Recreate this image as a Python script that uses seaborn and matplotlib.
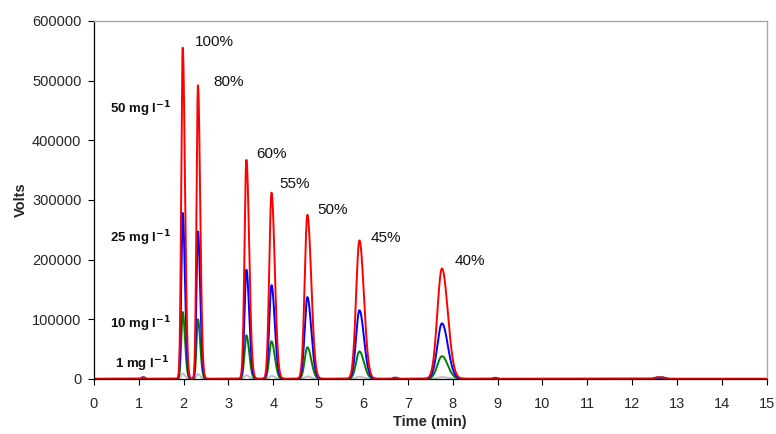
import numpy as np
import pandas as pd
import matplotlib
matplotlib.use("Agg")
import matplotlib.pyplot as plt
import seaborn as sns

# ---- data ----
peak_times = [1.98, 2.32, 3.40, 3.96, 4.76, 5.92, 7.76]
sigma_left = [0.032, 0.032, 0.042, 0.050, 0.060, 0.074, 0.102]
sigma_right = [0.050, 0.050, 0.062, 0.072, 0.085, 0.100, 0.130]
heights_50 = [555000, 492000, 367000, 312000, 275000, 232000, 185000]
heights_25 = [278000, 247000, 183000, 157000, 137000, 115000, 93000]
heights_10 = [112000, 100000, 73000, 63000, 53000, 46000, 38000]
heights_1 = [9000, 8000, 6000, 5000, 4000, 3500, 3000]
series_names = ["1 mg l-1", "10 mg l-1", "25 mg l-1", "50 mg l-1"]
series_colors = ["#c0c0c0", "#008000", "#0000ff", "#ff0000"]
minor_times = [1.10, 6.72, 8.95, 12.62]
minor_heights = [2500, 2000, 1800, 2500]
minor_widths = [0.04, 0.05, 0.05, 0.12]
pct_labels = ["100%", "80%", "60%", "55%", "50%", "45%", "40%"]
pct_x = [2.25, 2.66, 3.62, 4.13, 4.98, 6.16, 8.04]
pct_y = [565000, 498000, 377000, 327000, 283000, 236000, 198000]
conc_labels = ["50 mg l$^{\\mathbf{-1}}$", "25 mg l$^{\\mathbf{-1}}$",
               "10 mg l$^{\\mathbf{-1}}$", "1 mg l$^{\\mathbf{-1}}$"]
conc_x = [0.35, 0.35, 0.35, 0.48]
conc_y = [452000, 235000, 92000, 25000]
x_ticks = list(range(0, 16))
y_ticks = [0, 100000, 200000, 300000, 400000, 500000, 600000]

# ---- build chromatogram traces from peak parameters ----
t = np.linspace(0, 15, 4001)


def trace(heights, minor_scale):
    y = np.zeros_like(t)
    for mu, h, sl, sr in zip(peak_times, heights, sigma_left, sigma_right):
        s = np.where(t < mu, sl, sr)
        y += h * np.exp(-0.5 * ((t - mu) / s) ** 2)
    for mu, h, w in zip(minor_times, minor_heights, minor_widths):
        y += minor_scale * h * np.exp(-0.5 * ((t - mu) / w) ** 4)
    return y


all_heights = [heights_1, heights_10, heights_25, heights_50]
minor_scales = [0.3, 0.8, 0.9, 1.0]
frames = []
for name, hs, ms in zip(series_names, all_heights, minor_scales):
    frames.append(pd.DataFrame({"Time": t, "Volts": trace(hs, ms), "Series": name}))
df = pd.concat(frames, ignore_index=True)

sns.set_theme(style="white")
plt.rcParams["font.family"] = ["Liberation Sans", "DejaVu Sans"]

fig = plt.figure(figsize=(7.76, 4.34), dpi=100)
ax = fig.add_axes([0.121, 0.127, 0.867, 0.825])

sns.lineplot(data=df, x="Time", y="Volts", hue="Series", hue_order=series_names,
             palette=series_colors, linewidth=1.4, legend=False, ax=ax,
             estimator=None, sort=False)

ax.set_xlim(0, 15)
ax.set_ylim(0, 600000)
ax.set_xticks(x_ticks)
ax.set_xticklabels([str(v) for v in x_ticks])
ax.set_yticks(y_ticks)
ax.set_yticklabels([str(v) for v in y_ticks])
ax.tick_params(axis="both", which="major", direction="out", length=4, width=0.8,
               color="black", labelsize=10.5, left=True, bottom=True)
ax.tick_params(axis="x", pad=9)
ax.tick_params(axis="y", pad=5)
ax.set_xlabel("Time (min)", fontsize=10.5, fontweight="bold", labelpad=3)
ax.set_ylabel("Volts", fontsize=10.5, fontweight="bold", labelpad=3)

for side in ["left", "bottom"]:
    ax.spines[side].set_color("black")
    ax.spines[side].set_linewidth(0.9)
for side in ["top", "right"]:
    ax.spines[side].set_color("#a8a8a8")
    ax.spines[side].set_linewidth(1.0)

for lab, x, y in zip(pct_labels, pct_x, pct_y):
    ax.text(x, y, lab, fontsize=11, ha="left", va="center", color="#111111")
for lab, x, y in zip(conc_labels, conc_x, conc_y):
    ax.text(x, y, lab, fontsize=9.5, fontweight="bold", ha="left", va="center",
            color="#111111")

fig.savefig("out.png", dpi=100)
